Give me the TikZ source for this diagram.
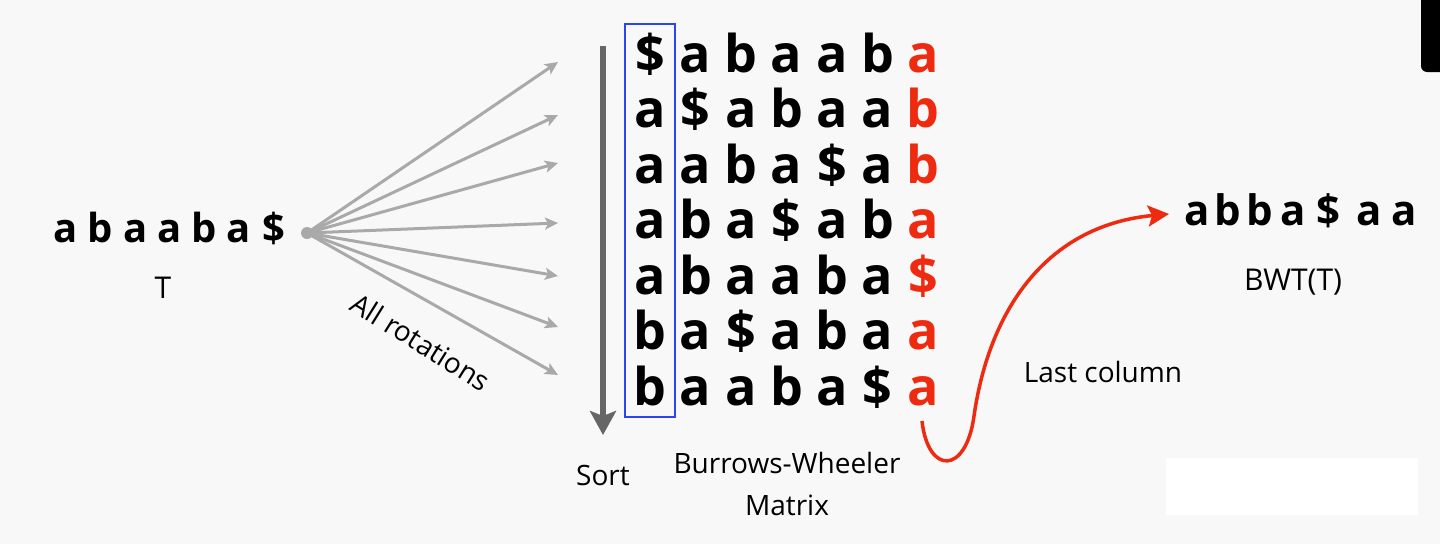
\documentclass[tikz,border=0pt]{standalone}
\usepackage{fontspec}
\setmainfont{Open Sans}
\usetikzlibrary{arrows.meta}
\definecolor{bg}{HTML}{F8F8F8}
\definecolor{fangray}{HTML}{A9A9A9}
\definecolor{sortgray}{HTML}{666666}
\definecolor{bwtred}{HTML}{EE2A10}
\definecolor{boxblue}{HTML}{2B45F5}
\begin{document}
\begin{tikzpicture}[x=1pt,y=-1pt,
  mat/.style={font=\fontsize{52}{52}\selectfont\bfseries, inner sep=0pt, anchor=base},
  str/.style={font=\fontsize{40}{40}\selectfont\bfseries, inner sep=0pt, anchor=base},
  strr/.style={font=\fontsize{42}{42}\selectfont\bfseries, inner sep=0pt, anchor=base},
  lbl/.style={font=\fontsize{28}{28}\selectfont, inner sep=0pt, anchor=base},
  lblbig/.style={font=\fontsize{30}{30}\selectfont, inner sep=0pt, anchor=base},
  fanarrow/.style={draw=fangray, line width=3pt, -{Stealth[length=13pt,width=12pt,inset=3pt]}},
  sortarrow/.style={draw=sortgray, line width=6pt, -{Stealth[length=24pt,width=26pt,inset=5pt]}},
  redarrow/.style={draw=bwtred, line width=3.5pt, -{Stealth[length=21pt,width=21pt,inset=4pt]}},
]
\useasboundingbox (0,0) rectangle (1440,544);
\fill[bg] (0,0) rectangle (1440,544);
% top right dark tab and white patch
\fill[black] (1421,0) [rounded corners=6pt] -- (1421,72) [sharp corners] -- (1440,72) -- (1440,0) -- cycle;
\fill[white] (1166,458) rectangle (1418,515);

% input string T
\foreach \ch [count=\i] in {a,b,a,a,b,a,\$} {
  \pgfmathsetmacro\xx{66+34.6*(\i-1)}
  \node[str] (t\i) at (\xx,242) {\ch};
}
\node[lblbig] (tlabel) at (163,298) {T};

% fan of rotations
\node[circle, fill=fangray, minimum size=12pt, inner sep=0pt] (dot) at (307,233) {};
\foreach \yy [count=\i] in {62,115,163,223,276,327,375} {
  \coordinate (r\i) at (558,\yy);
  \draw[fanarrow] (dot.center) -- (r\i);
}
\node[lbl, anchor=center, rotate=-32] (allrot) at (421,342) {All rotations};

% sort arrow
\coordinate (sorttop) at (603,46);
\coordinate (sortbot) at (603,435);
\draw[sortarrow] (sorttop) -- (sortbot);
\node[lbl] (sortlbl) at (603,485) {Sort};

% matrix
\foreach \row [count=\r] in {{\$,a,b,a,a,b,a},{a,\$,a,b,a,a,b},{a,a,b,a,\$,a,b},{a,b,a,\$,a,b,a},{a,b,a,a,b,a,\$},{b,a,\$,a,b,a,a},{b,a,a,b,a,\$,a}} {
  \foreach \ch [count=\c] in \row {
    \pgfmathsetmacro\xx{650+45.5*(\c-1)}
    \pgfmathsetmacro\yy{72+55.5*(\r-1)}
    \ifnum\c=7 \def\col{bwtred}\else\def\col{black}\fi
    \node[mat, text=\col] (m\r\c) at (\xx,\yy) {\ch};
  }
}
\node[draw=boxblue, line width=2.5pt, minimum width=50pt, minimum height=393pt, inner sep=0pt] (firstcol) at (650,220.5) {};
\node[lbl] (bwm1) at (787,473) {Burrows-Wheeler};
\node[lbl] (bwm2) at (787,515) {Matrix};

% last column arrow
\coordinate (cstart) at (922,421);
\coordinate (cmid) at (974,416);
\coordinate (cend) at (1169,214);
\draw[redarrow] (cstart) .. controls (928,475) and (966,475) .. (cmid) .. controls (990,305) and (1050,225) .. (cend);
\node[lbl] (lastcol) at (1103,382) {Last column};

% BWT string
\foreach \ch/\xx [count=\i] in {a/1197,b/1228,b/1260,a/1293,\$/1328,a/1369,a/1404} {
  \node[strr] (b\i) at (\xx,225) {\ch};
}
\node[lblbig] (bwtlbl) at (1293,290) {BWT(T)};
\end{tikzpicture}
\end{document}
